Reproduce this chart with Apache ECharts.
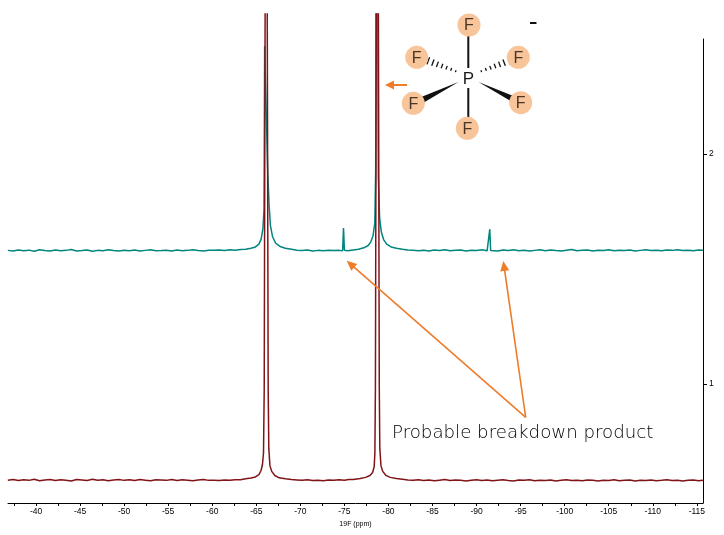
<!DOCTYPE html>
<html>
<head>
<meta charset="utf-8">
<title>19F NMR</title>
<script src="https://cdn.jsdelivr.net/npm/echarts@6.0.0/dist/echarts.min.js"></script>
<style>
  html, body { margin: 0; padding: 0; background: #fff; }
  #chart { width: 724px; height: 535px; }
</style>
</head>
<body>
<div id="chart"></div>
<script>
// ppm axis: labels every 5, ticks every 2.5
const xLabelValues = [-40, -45, -50, -55, -60, -65, -70, -75, -80, -85, -90, -95, -100, -105, -110, -115];
const xTickValues = [-37.5, -40, -42.5, -45, -47.5, -50, -52.5, -55, -57.5, -60, -62.5, -65, -67.5, -70, -72.5, -75,
  -77.5, -80, -82.5, -85, -87.5, -90, -92.5, -95, -97.5, -100, -102.5, -105, -107.5, -110, -112.5, -115];
const yLabelValues = [1, 2];

// top spectrum (teal) [ppm, intensity]
const tealPoints = [
  [-36.8, 1.581], [-37.4, 1.578], [-38.0, 1.583], [-38.6, 1.579], [-39.2, 1.582], [-39.8, 1.577], [-40.4, 1.584],
  [-41.0, 1.580], [-41.6, 1.578], [-42.2, 1.583], [-42.8, 1.579], [-43.4, 1.581], [-44.0, 1.585], [-44.6, 1.578],
  [-45.2, 1.580], [-45.8, 1.583], [-46.4, 1.577], [-47.0, 1.581], [-47.6, 1.579], [-48.2, 1.584], [-48.8, 1.580],
  [-49.4, 1.578], [-50.0, 1.582], [-50.6, 1.579], [-51.2, 1.583], [-51.8, 1.578], [-52.4, 1.581], [-53.0, 1.584],
  [-53.6, 1.579], [-54.2, 1.580], [-54.8, 1.582], [-55.4, 1.578], [-56.0, 1.583], [-56.6, 1.579], [-57.2, 1.581],
  [-57.8, 1.584], [-58.4, 1.580], [-59.0, 1.578], [-59.6, 1.582], [-60.2, 1.581], [-60.8, 1.583], [-61.4, 1.580],
  [-62.0, 1.584], [-62.6, 1.582], [-63.2, 1.585],
  // PF6 doublet, low field line
  [-63.8, 1.586], [-64.4, 1.590], [-64.9, 1.596], [-65.3, 1.608], [-65.55, 1.630], [-65.75, 1.675], [-65.88, 1.760],
  [-65.95, 2.470], [-66.05, 2.300], [-66.3, 1.920], [-66.45, 1.780], [-66.6, 1.690], [-66.85, 1.640], [-67.2, 1.612],
  [-67.7, 1.598], [-68.3, 1.590], [-69.0, 1.586], [-69.6, 1.582],
  [-70.2, 1.580], [-70.8, 1.583], [-71.4, 1.578], [-72.0, 1.581], [-72.6, 1.579], [-73.2, 1.582], [-73.8, 1.580],
  [-74.4, 1.581], [-74.8, 1.579], [-74.9, 1.678], [-75.0, 1.582], [-75.4, 1.579], [-76.0, 1.583],
  // high field line
  [-76.6, 1.586], [-77.2, 1.592], [-77.7, 1.602], [-78.0, 1.618], [-78.25, 1.645], [-78.45, 1.700], [-78.55, 1.920],
  [-78.65, 4.0], [-78.85, 1.900], [-79.0, 1.720], [-79.2, 1.660], [-79.45, 1.628], [-79.8, 1.608], [-80.3, 1.596],
  [-80.9, 1.590], [-81.6, 1.586], [-82.2, 1.583],
  [-82.8, 1.581], [-83.4, 1.579], [-84.0, 1.582], [-84.6, 1.578], [-85.2, 1.583], [-85.8, 1.580], [-86.4, 1.584],
  [-87.0, 1.579], [-87.6, 1.581], [-88.2, 1.583], [-88.8, 1.578], [-89.4, 1.582], [-90.0, 1.580], [-90.6, 1.584],
  [-91.2, 1.579], [-91.4, 1.581], [-91.5, 1.673], [-91.6, 1.580], [-91.8, 1.582], [-92.4, 1.578], [-93.0, 1.583],
  [-93.6, 1.580], [-94.2, 1.584], [-94.8, 1.579], [-95.4, 1.582], [-96.0, 1.578], [-96.6, 1.581], [-97.2, 1.584],
  [-97.8, 1.579], [-98.4, 1.583], [-99.0, 1.580], [-99.6, 1.578], [-100.2, 1.582], [-100.8, 1.585], [-101.4, 1.579],
  [-102.0, 1.581], [-102.6, 1.583], [-103.2, 1.578], [-103.8, 1.582], [-104.4, 1.580], [-105.0, 1.584], [-105.6, 1.579],
  [-106.2, 1.582], [-106.8, 1.580], [-107.4, 1.583], [-108.0, 1.578], [-108.6, 1.581], [-109.2, 1.584], [-109.8, 1.580],
  [-110.4, 1.582], [-111.0, 1.579], [-111.6, 1.583], [-112.2, 1.581], [-112.8, 1.584], [-113.4, 1.580], [-114.0, 1.582],
  [-114.6, 1.579], [-115.2, 1.583], [-115.7, 1.581]
];

// bottom spectrum (dark red) [ppm, intensity]
const redPoints = [
  [-36.8, 0.582], [-37.4, 0.585], [-38.0, 0.580], [-38.6, 0.584], [-39.2, 0.581], [-39.8, 0.586], [-40.4, 0.579],
  [-41.0, 0.583], [-41.6, 0.585], [-42.2, 0.580], [-42.8, 0.584], [-43.4, 0.582], [-44.0, 0.578], [-44.6, 0.585],
  [-45.2, 0.583], [-45.8, 0.580], [-46.4, 0.586], [-47.0, 0.582], [-47.6, 0.584], [-48.2, 0.579], [-48.8, 0.583],
  [-49.4, 0.585], [-50.0, 0.581], [-50.6, 0.584], [-51.2, 0.580], [-51.8, 0.585], [-52.4, 0.582], [-53.0, 0.579],
  [-53.6, 0.584], [-54.2, 0.583], [-54.8, 0.581], [-55.4, 0.585], [-56.0, 0.580], [-56.6, 0.584], [-57.2, 0.582],
  [-57.8, 0.579], [-58.4, 0.583], [-59.0, 0.585], [-59.6, 0.581], [-60.2, 0.582], [-60.8, 0.580], [-61.4, 0.583],
  [-62.0, 0.581], [-62.6, 0.584], [-63.2, 0.584],
  [-63.8, 0.588], [-64.4, 0.591], [-64.9, 0.596], [-65.3, 0.606], [-65.55, 0.625], [-65.7, 0.650], [-65.82, 0.700],
  [-65.9, 0.980], [-66.12, 4.5], [-66.35, 0.980], [-66.42, 0.720], [-66.55, 0.645], [-66.75, 0.620], [-67.1, 0.602],
  [-67.6, 0.592], [-68.3, 0.588], [-69.0, 0.585],
  [-69.6, 0.583], [-70.2, 0.581], [-70.8, 0.584], [-71.4, 0.580], [-72.0, 0.582], [-72.6, 0.579], [-73.2, 0.583],
  [-73.8, 0.581], [-74.4, 0.584], [-75.0, 0.582], [-75.5, 0.585],
  [-76.0, 0.585], [-76.8, 0.589], [-77.4, 0.594], [-77.9, 0.602], [-78.2, 0.615], [-78.38, 0.640], [-78.46, 0.700],
  [-78.52, 0.980], [-78.74, 4.5], [-78.96, 0.980], [-79.02, 0.720], [-79.15, 0.645], [-79.35, 0.620], [-79.7, 0.603],
  [-80.2, 0.594], [-80.9, 0.589], [-81.6, 0.586],
  [-82.2, 0.583], [-82.8, 0.581], [-83.4, 0.584], [-84.0, 0.580], [-84.6, 0.583], [-85.2, 0.579], [-85.8, 0.582],
  [-86.4, 0.585], [-87.0, 0.580], [-87.6, 0.583], [-88.2, 0.581], [-88.8, 0.578], [-89.4, 0.582], [-90.0, 0.584],
  [-90.6, 0.580], [-91.2, 0.583], [-91.8, 0.579], [-92.4, 0.582], [-93.0, 0.584], [-93.6, 0.580], [-94.2, 0.578],
  [-94.8, 0.583], [-95.4, 0.581], [-96.0, 0.584], [-96.6, 0.579], [-97.2, 0.582], [-97.8, 0.580], [-98.4, 0.583],
  [-99.0, 0.578], [-99.6, 0.581], [-100.2, 0.584], [-100.8, 0.580], [-101.4, 0.582], [-102.0, 0.579], [-102.6, 0.583],
  [-103.2, 0.581], [-103.8, 0.578], [-104.4, 0.582], [-105.0, 0.580], [-105.6, 0.584], [-106.2, 0.579], [-106.8, 0.581],
  [-107.4, 0.583], [-108.0, 0.578], [-108.6, 0.582], [-109.2, 0.580], [-109.8, 0.583], [-110.4, 0.579], [-111.0, 0.581],
  [-111.6, 0.584], [-112.2, 0.580], [-112.8, 0.582], [-113.4, 0.578], [-114.0, 0.581], [-114.6, 0.583], [-115.2, 0.579],
  [-115.7, 0.581]
];

const X_MIN = -115.7, X_MAX = -36.82;
const Y_MIN = 0.4826, Y_MAX = 2.6087, Y_AXIS_TOP = 2.5;

const ORANGE = '#EE7D2B';
const TICK_FONT = 'Liberation Sans, Arial, sans-serif';

// ---- annotation helpers (pixel positions, decoration only) ----
function arrow(x1, y1, x2, y2, width, head, half) {
  const dx = x2 - x1, dy = y2 - y1;
  const len = Math.sqrt(dx * dx + dy * dy);
  const ux = dx / len, uy = dy / len;
  const bx = x2 - ux * head, by = y2 - uy * head;
  return [
    { type: 'line', z: 50, shape: { x1: x1, y1: y1, x2: bx + ux, y2: by + uy }, style: { stroke: ORANGE, lineWidth: width } },
    { type: 'polygon', z: 50, shape: { points: [[x2, y2], [bx - uy * half, by + ux * half], [bx + uy * half, by - ux * half]] }, style: { fill: ORANGE } }
  ];
}

function hashedBond(px, py, fx, fy) {
  const out = [];
  const dx = fx - px, dy = fy - py;
  const len = Math.sqrt(dx * dx + dy * dy);
  const nx = -dy / len, ny = dx / len;
  const n = 7;
  for (let i = 0; i < n; i++) {
    const t = (i + 0.5) / n;
    const cx = px + dx * t, cy = py + dy * t;
    const h = 0.8 + 3.2 * t;
    out.push({ type: 'line', z: 60, shape: { x1: cx - nx * h, y1: cy - ny * h, x2: cx + nx * h, y2: cy + ny * h },
      style: { stroke: '#111', lineWidth: 1.3 } });
  }
  return out;
}

function wedgeBond(px, py, fx, fy) {
  const dx = fx - px, dy = fy - py;
  const len = Math.sqrt(dx * dx + dy * dy);
  const nx = -dy / len, ny = dx / len;
  const w = 3.2;
  return { type: 'polygon', z: 60, shape: { points: [[px, py], [fx + nx * w, fy + ny * w], [fx - nx * w, fy - ny * w]] },
    style: { fill: '#111' } };
}

const fAtoms = [[469, 25], [416.7, 57.3], [518.3, 57.3], [413.3, 103.3], [520.7, 102.7], [467.3, 128.3]];
const molecule = [];
molecule.push({ type: 'line', z: 60, shape: { x1: 468.3, y1: 36, x2: 468.3, y2: 68 }, style: { stroke: '#111', lineWidth: 2 } });
molecule.push({ type: 'line', z: 60, shape: { x1: 468.3, y1: 88, x2: 468.3, y2: 118 }, style: { stroke: '#111', lineWidth: 2 } });
molecule.push(...hashedBond(458, 72, 426, 60));
molecule.push(...hashedBond(479, 72, 511, 60));
molecule.push(wedgeBond(458.5, 82, 422, 100));
molecule.push(wedgeBond(478.5, 82, 515, 100));
fAtoms.forEach(function (p) {
  molecule.push({ type: 'circle', z: 61, shape: { cx: p[0], cy: p[1], r: 11.5 }, style: { fill: '#F8C49A' } });
  molecule.push({ type: 'text', z: 62, x: p[0], y: p[1] + 1,
    style: { text: 'F', fontSize: 16, fontFamily: 'Liberation Sans, Arial, sans-serif', fill: '#4a3626', align: 'center', verticalAlign: 'middle' } });
});
molecule.push({ type: 'text', z: 62, x: 468.3, y: 79,
  style: { text: 'P', fontSize: 17, fontFamily: 'Liberation Sans, Arial, sans-serif', fill: '#1a1a1a', align: 'center', verticalAlign: 'middle' } });
// charge
molecule.push({ type: 'rect', z: 62, shape: { x: 530, y: 22, width: 6.5, height: 2 }, style: { fill: '#111' } });

const annotations = []
  .concat(arrow(525.7, 417.3, 346.7, 260.7, 1.6, 10, 4.5))
  .concat(arrow(525.7, 417.3, 503.3, 261, 1.6, 10, 4.5))
  .concat(arrow(407, 85, 385, 85, 2, 9, 4.5))
  .concat([{ type: 'text', z: 50, x: 392, y: 433,
    style: { text: 'Probable breakdown product', fontSize: 18.2, fontFamily: 'DejaVu Sans, sans-serif', fontWeight: 200,
      fill: '#000', align: 'left', verticalAlign: 'middle' } }])
  .concat(molecule);

const chart = echarts.init(document.getElementById('chart'), null, { renderer: 'canvas' });

const option = {
  animation: false,
  backgroundColor: '#fff',
  grid: [
    // data area, peaks run up to the top edge
    { left: 8, right: 21, top: 14, bottom: 32 },
    // axes only: right intensity axis starts lower than the data
    { left: 8, right: 21, top: 39, bottom: 32 }
  ],
  xAxis: [
    {
      gridIndex: 0,
      type: 'value',
      min: X_MIN,
      max: X_MAX,
      inverse: true,
      name: '19F (ppm)',
      nameLocation: 'middle',
      nameGap: 16,
      nameTextStyle: { fontSize: 7, color: '#000', fontFamily: TICK_FONT },
      axisLine: { show: true, onZero: false, lineStyle: { color: '#000', width: 1 } },
      axisTick: { show: true, length: 3, lineStyle: { color: '#000' }, customValues: xTickValues },
      axisLabel: { fontSize: 8.5, color: '#000', margin: 4, fontFamily: TICK_FONT, customValues: xLabelValues },
      splitLine: { show: false }
    },
    { gridIndex: 1, type: 'value', min: X_MIN, max: X_MAX, inverse: true, show: false }
  ],
  yAxis: [
    { gridIndex: 0, type: 'value', min: Y_MIN, max: Y_MAX, show: false },
    {
      gridIndex: 1,
      type: 'value',
      position: 'right',
      min: Y_MIN,
      max: Y_AXIS_TOP,
      axisLine: { show: true, lineStyle: { color: '#000', width: 1 } },
      axisTick: { show: true, length: 4, lineStyle: { color: '#000' }, customValues: yLabelValues },
      axisLabel: { fontSize: 8.5, color: '#000', margin: 6, fontFamily: TICK_FONT, customValues: yLabelValues },
      splitLine: { show: false }
    }
  ],
  series: [
    {
      name: 'top',
      type: 'line',
      xAxisIndex: 0,
      yAxisIndex: 0,
      data: tealPoints,
      symbol: 'none',
      clip: true,
      lineStyle: { color: '#00857F', width: 1.5 },
      z: 2
    },
    {
      name: 'bottom',
      type: 'line',
      xAxisIndex: 0,
      yAxisIndex: 0,
      data: redPoints,
      symbol: 'none',
      clip: true,
      lineStyle: { color: '#801418', width: 1.5 },
      z: 3
    }
  ],
  graphic: annotations
};

chart.setOption(option);
</script>
</body>
</html>
